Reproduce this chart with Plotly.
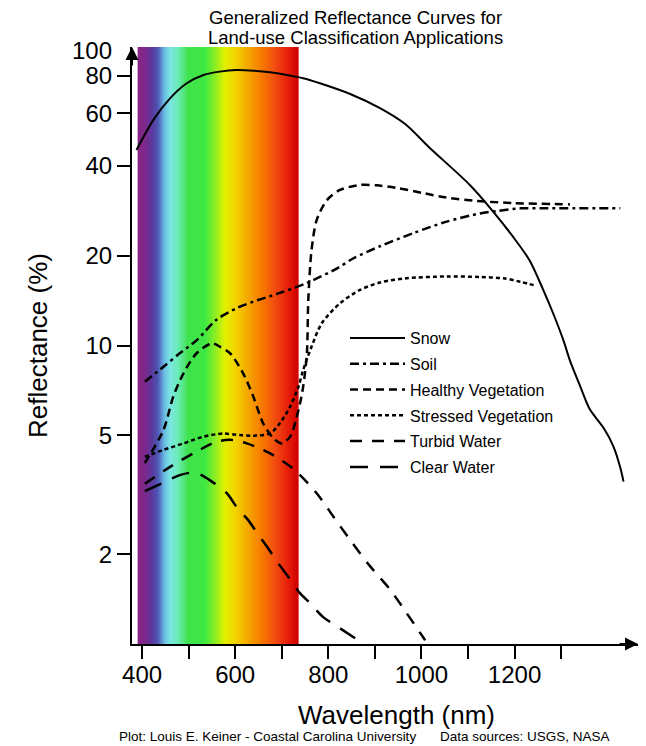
import numpy as np
import plotly.graph_objects as go

# ---------------- data ----------------
snow_wl = [388, 424, 460, 496, 532, 567, 603, 639, 675, 711, 746, 782, 847, 911, 965, 1018,
           1104, 1154, 1197, 1233, 1262, 1283, 1305, 1319, 1341, 1362, 1391, 1412, 1427, 1434]
snow_r = [45.2, 56.9, 67.3, 75.6, 80.6, 82.7, 83.7, 83.3, 82.3, 80.6, 78.6, 75.6, 69.6, 62.4, 55.2, 45.9,
          34.5, 28.1, 23.1, 19.2, 15.3, 12.8, 10.4, 8.9, 7.3, 6.1, 5.3, 4.6, 3.9, 3.5]

soil_wl = [406, 446, 481, 517, 560, 606, 649, 696, 754, 818, 854, 911, 983, 1054, 1126, 1162, 1212, 1269, 1427]
soil_r = [7.56, 8.49, 9.42, 10.4, 12.2, 13.4, 14.2, 15.0, 16.2, 18.1, 19.6, 21.5, 23.8, 26.0, 27.7, 28.2, 28.8, 28.8, 28.8]

hveg_wl = [406, 446, 467, 489, 517, 550, 567, 589, 617, 639, 660, 682, 700, 718, 736, 746, 754, 757,
           764, 775, 797, 825, 868, 904, 947, 1004, 1054, 1119, 1197, 1319]
hveg_r = [4.04, 5.21, 6.74, 8.07, 9.42, 10.17, 9.91, 9.42, 8.07, 6.74, 5.49, 4.89, 4.70, 4.95, 6.08, 7.28, 9.42, 14.2,
          20.9, 26.3, 30.7, 33.2, 34.5, 34.4, 33.7, 32.4, 31.3, 30.5, 30.0, 29.7]

sveg_wl = [406, 446, 489, 532, 574, 610, 646, 675, 696, 718, 736, 746, 764, 786, 825, 868, 911, 968,
           1054, 1126, 1176, 1212, 1248]
sveg_r = [4.24, 4.47, 4.70, 4.95, 5.07, 5.01, 4.99, 5.08, 5.49, 6.24, 7.28, 8.28, 9.91, 11.87, 13.85, 15.35, 16.26, 16.8,
          17.03, 16.96, 16.8, 16.36, 15.82]

turbid_wl = [406, 460, 517, 560, 589, 625, 675, 725, 775, 811, 847, 890, 933, 968, 1008]
turbid_r = [3.44, 3.92, 4.41, 4.76, 4.83, 4.70, 4.35, 3.86, 3.20, 2.67, 2.23, 1.82, 1.52, 1.27, 1.03]

clear_wl = [406, 442, 481, 514, 550, 582, 603, 628, 650, 671, 693, 714, 739, 761, 789, 821, 868]
clear_r = [3.25, 3.45, 3.68, 3.75, 3.50, 3.20, 2.88, 2.60, 2.32, 2.09, 1.86, 1.68, 1.48, 1.37, 1.23, 1.14, 1.02]

x_tickvals = [400, 500, 600, 700, 800, 900, 1000, 1100, 1200, 1300]
x_ticktext = ["400", "", "600", "", "800", "", "1000", "", "1200", ""]
y_tickvals = [2, 5, 10, 20, 40, 60, 80]
y_ticktext = ["2", "5", "10", "20", "40", "60", "80"]

title_lines = ["Generalized Reflectance Curves for", "Land-use Classification Applications"]

# visible spectrum colour stops (wavelength nm, colour)
spec_wl = [391, 408, 421, 434, 447, 460, 477, 499, 535, 557, 578, 600, 628, 658, 686, 714, 735]
spec_col = ["#8a2584", "#7a2a8e", "#5a3a9e", "#4e55b4", "#6ab8e2", "#7ae6e2", "#6cebb8", "#3fe24c",
            "#3ee842", "#8cee22", "#e4f000", "#f2d400", "#f5a600", "#f67800", "#f24c10", "#e61e0a", "#d00000"]

FONT = "Liberation Sans, Arial, sans-serif"

fig = go.Figure()

# spectrum band
lo, hi = spec_wl[0], spec_wl[-1]
band_x = np.arange(lo, hi + 1, 1.0)
cscale = [[(w - lo) / (hi - lo), c] for w, c in zip(spec_wl, spec_col)]
fig.add_trace(go.Heatmap(x=band_x, y=[1, 100], z=[band_x], colorscale=cscale, zmin=lo, zmax=hi,
                         showscale=False, hoverinfo="skip", showlegend=False))

series = [
    ("Snow", snow_wl, snow_r, "solid", 2),
    ("Soil", soil_wl, soil_r, "9px,4px,3px,4px", 2.5),
    ("Healthy Vegetation", hveg_wl, hveg_r, "8px,5px", 2.5),
    ("Stressed Vegetation", sveg_wl, sveg_r, "4px,3px", 2.5),
    ("Turbid Water", turbid_wl, turbid_r, "12px,10px", 2.5),
    ("Clear Water", clear_wl, clear_r, "18px,12px", 2.5),
]
for name, xs, ys, dash, w in series:
    fig.add_trace(go.Scatter(x=xs, y=ys, mode="lines", name=name, legendgroup=name,
                             line=dict(color="black", width=w, dash=dash, shape="spline", smoothing=0.8)))

L, T, R, B = 132, 47, 638, 644
W, H = 646, 746
pw, ph = R - L, B - T
px = lambda v: (v - L) / pw
py = lambda v: (B - v) / ph

fig.update_layout(
    width=W, height=H,
    margin=dict(l=L, r=W - R, t=T, b=H - B),
    paper_bgcolor="white", plot_bgcolor="white",
    font=dict(family=FONT, color="black"),
    xaxis=dict(range=[378.4, 1465.1], showline=True, linecolor="black", linewidth=2,
               ticks="outside", ticklen=13, tickwidth=2, tickcolor="black",
               tickvals=x_tickvals, ticktext=x_ticktext, tickfont=dict(size=24, family=FONT),
               ticklabelstandoff=-5, showgrid=False, zeroline=False),
    yaxis=dict(type="log", range=[0, 2], showline=True, linecolor="black", linewidth=2,
               ticks="outside", ticklen=13, tickwidth=2, tickcolor="black",
               tickvals=y_tickvals, ticktext=y_ticktext, tickfont=dict(size=24, family=FONT),
               showgrid=False, zeroline=False),
    legend=dict(x=px(345), y=py(321), xanchor="left", yanchor="top", bgcolor="rgba(0,0,0,0)",
                font=dict(size=16, family=FONT), itemwidth=55, tracegroupgap=2),
    showlegend=True,
)

ann = [
    dict(text=title_lines[0], x=px(355), y=py(17), xanchor="center", yanchor="middle", font=dict(size=18.5)),
    dict(text=title_lines[1], x=px(355), y=py(37), xanchor="center", yanchor="middle", font=dict(size=18.5)),
    dict(text="100", x=px(114), y=py(51), xanchor="right", yanchor="middle", font=dict(size=24)),
    dict(text="Reflectance (%)", x=px(38), y=py(346), textangle=-90, xanchor="center", yanchor="middle",
         font=dict(size=26)),
    dict(text="Wavelength (nm)", x=px(396), y=py(715), xanchor="center", yanchor="middle", font=dict(size=26)),
    dict(text="Plot: Louis E. Keiner - Coastal Carolina University", x=px(117), y=py(737),
         xanchor="left", yanchor="middle", font=dict(size=13.5)),
    dict(text="Data sources: USGS, NASA", x=px(438), y=py(737), xanchor="left", yanchor="middle",
         font=dict(size=13.5)),
]
for a in ann:
    a.update(xref="paper", yref="paper", showarrow=False)
    fig.add_annotation(**a)

# axis arrowheads
fig.add_annotation(x=0, y=1, xref="paper", yref="paper", text="", showarrow=True, ax=0, ay=20,
                   arrowhead=2, arrowsize=1.3, arrowwidth=2, arrowcolor="black")
fig.add_annotation(x=1, y=0, xref="paper", yref="paper", text="", showarrow=True, ax=-20, ay=0,
                   arrowhead=2, arrowsize=1.3, arrowwidth=2, arrowcolor="black")

fig.write_html("out.html", config={"displayModeBar": False},
               post_script="document.body.style.margin='0px';document.body.style.padding='0px';")
